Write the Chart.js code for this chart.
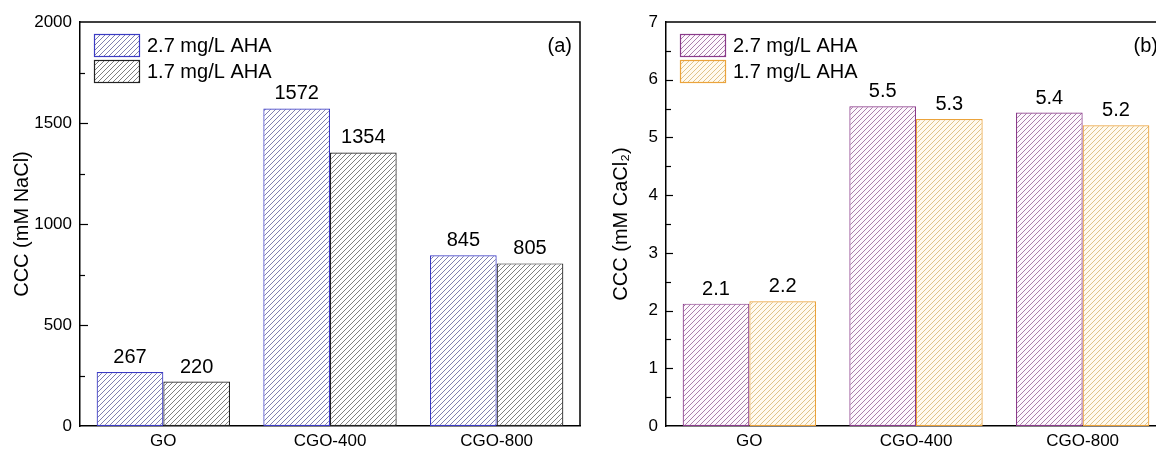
<!DOCTYPE html>
<html>
<head>
<meta charset="utf-8">
<script src="https://cdn.jsdelivr.net/npm/chart.js@4"></script>
<style>
html, body { margin: 0; padding: 0; background: #fff; overflow: hidden; width: 1156px; height: 450px; }
#chartA { position: absolute; left: 0; top: 0; }
#chartB { position: absolute; left: 580px; top: 0; }
</style>
</head>
<body>
<canvas id="chartA" width="600" height="450"></canvas>
<canvas id="chartB" width="620" height="450"></canvas>
<script>
var categories = ['GO', 'CGO-400', 'CGO-800'];
var seriesNames = ['2.7 mg/L AHA', '1.7 mg/L AHA'];

// CCC in NaCl (mM)
var naclHigh = [267, 1572, 845];
var naclLow = [220, 1354, 805];

// CCC in CaCl2 (mM)
var caclHigh = [2.12, 5.54, 5.43];
var caclLow = [2.16, 5.32, 5.21];

var yTicksA = [0, 500, 1000, 1500, 2000];
var yTicksB = [0, 1, 2, 3, 4, 5, 6, 7];

Chart.defaults.font.family = "'Liberation Sans', Arial, sans-serif";
Chart.defaults.color = '#000';

// diagonal hatch fill
function hatch(lineColor, bgColor) {
    var size = 5;
    var c = document.createElement('canvas');
    c.width = size; c.height = size;
    var g = c.getContext('2d');
    g.fillStyle = bgColor;
    g.fillRect(0, 0, size, size);
    g.strokeStyle = lineColor;
    g.lineWidth = 0.9;
    g.beginPath();
    g.moveTo(0, size); g.lineTo(size, 0);
    g.moveTo(-1, 1); g.lineTo(1, -1);
    g.moveTo(size - 1, size + 1); g.lineTo(size + 1, size - 1);
    g.stroke();
    return g.createPattern(c, 'repeat');
}

const panelDecor = {
    id: 'panelDecor',
    afterDraw(chart, args, opts) {
        const ctx = chart.ctx;
        const area = chart.chartArea;
        const y = chart.scales.y;
        ctx.save();

        // top and right frame
        ctx.strokeStyle = '#000';
        ctx.lineWidth = 1.5;
        ctx.beginPath();
        ctx.moveTo(area.left, area.top);
        ctx.lineTo(area.right, area.top);
        ctx.lineTo(area.right, area.bottom);
        ctx.stroke();

        // inward major + minor ticks on the left axis
        ctx.lineWidth = 1.2;
        const n = Math.round((y.max - y.min) / opts.minorStep);
        for (let i = 1; i < n; i++) {
            const v = y.min + i * opts.minorStep;
            const py = Math.round(y.getPixelForValue(v)) + 0.5;
            const len = (i % 2 === 0) ? opts.majorLen : opts.minorLen;
            ctx.beginPath();
            ctx.moveTo(area.left, py);
            ctx.lineTo(area.left + len, py);
            ctx.stroke();
        }

        // value labels above bars
        ctx.font = '20px ' + Chart.defaults.font.family;
        ctx.fillStyle = '#000';
        ctx.textAlign = 'center';
        ctx.textBaseline = 'alphabetic';
        chart.data.datasets.forEach((ds, di) => {
            chart.getDatasetMeta(di).data.forEach((bar, i) => {
                ctx.fillText(ds.data[i].toFixed(opts.decimals), bar.x, bar.y - 9);
            });
        });

        // legend inside the plot
        const bx = area.left + 14;
        chart.data.datasets.forEach((ds, di) => {
            const by = area.top + 12 + di * 26;
            ctx.fillStyle = ds.backgroundColor;
            ctx.fillRect(bx, by, 46, 23);
            ctx.strokeStyle = ds.borderColor;
            ctx.lineWidth = 1.2;
            ctx.strokeRect(bx + 0.5, by + 0.5, 45, 22);
            ctx.fillStyle = '#000';
            ctx.textAlign = 'left';
            ctx.textBaseline = 'middle';
            ctx.fillText(ds.label, bx + 53, by + 12);
        });

        // panel tag
        ctx.textAlign = 'right';
        ctx.fillText(opts.tag, area.right - 8, area.top + 24);
        ctx.restore();
    }
};

function makeChart(id, high, low, colors, yMax, yStep, yTitle, axisWidth, titlePad, padRight, decor) {
    return new Chart(document.getElementById(id).getContext('2d'), {
        type: 'bar',
        data: {
            labels: categories,
            datasets: [{
                label: seriesNames[0],
                data: high,
                backgroundColor: hatch(colors[0], colors[1]),
                borderColor: colors[2],
                borderWidth: 1.2,
                borderSkipped: false
            }, {
                label: seriesNames[1],
                data: low,
                backgroundColor: hatch(colors[3], colors[4]),
                borderColor: colors[5],
                borderWidth: 1.2,
                borderSkipped: false
            }]
        },
        options: {
            responsive: false,
            animation: false,
            layout: {
                padding: { left: 0, right: padRight, top: 22, bottom: 0 }
            },
            datasets: {
                bar: { categoryPercentage: 0.8, barPercentage: 1.0 }
            },
            scales: {
                x: {
                    grid: { display: false, drawTicks: false },
                    border: { display: true, color: '#000', width: 1.5 },
                    ticks: { font: { size: 17 }, padding: 5 },
                    afterFit: function (scale) { scale.height = 24; }
                },
                y: {
                    min: 0,
                    max: yMax,
                    grid: { display: false, drawTicks: false },
                    border: { display: true, color: '#000', width: 1.5 },
                    ticks: {
                        stepSize: yStep,
                        font: { size: 17 },
                        padding: 8,
                        autoSkip: false,
                        callback: function (value) { return String(value); }
                    },
                    title: {
                        display: true,
                        text: yTitle,
                        font: { size: 20 },
                        padding: { top: titlePad, bottom: 0 }
                    },
                    afterFit: function (scale) { scale.width = axisWidth; }
                }
            },
            plugins: {
                legend: { display: false },
                tooltip: { enabled: false },
                panelDecor: decor
            }
        },
        plugins: [panelDecor]
    });
}

makeChart('chartA', naclHigh, naclLow,
    ['#7272a6', '#ffffff', '#3b3bc4', '#707070', '#ffffff', '#222222'],
    yTicksA[yTicksA.length - 1], yTicksA[1], 'CCC (mM NaCl)', 80, 10, 20,
    { tag: '(a)', minorStep: 250, majorLen: 8, minorLen: 5, decimals: 0 });

makeChart('chartB', caclHigh, caclLow,
    ['#a070a0', '#fdf8fd', '#8a3a8a', '#dcbc7c', '#fffaf0', '#eba33b'],
    yTicksB[yTicksB.length - 1], yTicksB[1], 'CCC (mM CaCl\u2082)', 86, 29, 34,
    { tag: '(b)', minorStep: 0.5, majorLen: 7, minorLen: 5, decimals: 1 });
</script>
</body>
</html>
